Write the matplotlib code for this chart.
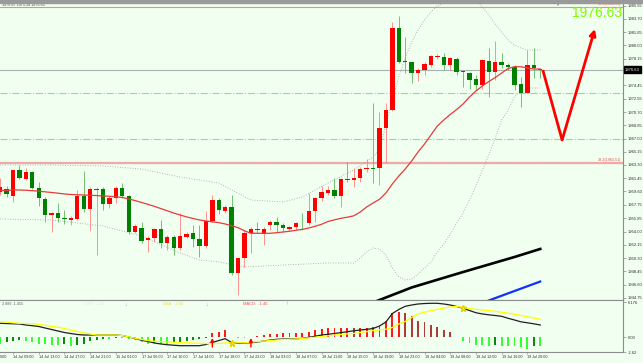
import numpy as np
import matplotlib.pyplot as plt
import matplotlib.transforms as mtrans

plt.rcParams['font.family'] = ['Liberation Sans', 'DejaVu Sans']

# H1 bars, index 0 = 14 Jul 09:00
bars = np.arange(-2, 83)

opens = [1959.53, 1959.95, 1958.97, 1962.60, 1961.34, 1962.32, 1960.09, 1958.55, 1956.31, 1956.59,
         1955.90, 1955.62, 1955.76, 1958.97, 1957.15, 1959.81, 1959.95, 1957.85, 1958.69, 1960.09,
         1958.97, 1953.94, 1954.50, 1952.82, 1953.10, 1954.36, 1952.40, 1953.24, 1951.70, 1953.24,
         1953.80, 1952.96, 1951.98, 1955.48, 1958.41, 1956.87, 1957.43, 1948.21, 1950.31, 1953.80,
         1954.36, 1953.66, 1954.92, 1955.34, 1954.92, 1954.36, 1954.64, 1955.20, 1955.20, 1956.87,
         1958.69, 1959.39, 1959.81, 1958.97, 1961.34, 1961.20, 1961.48, 1962.74, 1962.88, 1962.88,
         1968.47, 1970.98, 1982.44, 1977.83, 1977.69, 1976.15, 1976.57, 1977.27, 1978.35, 1978.39,
         1977.27, 1978.11, 1976.43, 1976.15, 1975.31, 1974.48, 1977.83, 1976.29, 1977.69, 1977.27,
         1976.99, 1974.62, 1973.36, 1977.27, 1976.65]
highs = [1961.48, 1960.37, 1962.65, 1963.30, 1962.88, 1962.40, 1960.92, 1958.83, 1956.73, 1957.99,
         1957.01, 1956.17, 1959.81, 1962.46, 1960.23, 1960.23, 1960.23, 1958.97, 1960.37, 1960.78,
         1959.05, 1955.06, 1955.34, 1953.38, 1954.50, 1955.62, 1953.52, 1953.52, 1956.59, 1953.94,
         1954.92, 1954.92, 1956.87, 1959.11, 1958.69, 1957.71, 1959.11, 1950.40, 1954.22, 1954.64,
         1955.34, 1954.64, 1955.62, 1956.03, 1955.20, 1954.78, 1955.34, 1956.59, 1959.39, 1958.83,
         1960.37, 1960.37, 1961.48, 1961.48, 1963.72, 1962.88, 1963.02, 1964.14, 1971.96, 1970.70,
         1971.96, 1983.28, 1984.11, 1981.18, 1977.75, 1976.85, 1977.69, 1978.67, 1978.81, 1978.95,
         1978.39, 1978.39, 1976.57, 1976.29, 1975.87, 1978.11, 1979.64, 1980.62, 1978.95, 1977.55,
         1977.27, 1975.59, 1979.36, 1979.64, 1976.67]
lows = [1959.11, 1958.83, 1958.13, 1961.34, 1961.20, 1959.95, 1957.57, 1955.34, 1953.94, 1955.34,
        1955.06, 1954.92, 1955.62, 1956.73, 1954.08, 1950.73, 1957.01, 1957.29, 1957.99, 1958.69,
        1953.66, 1953.80, 1952.40, 1951.14, 1952.54, 1951.70, 1951.42, 1950.73, 1951.42, 1953.10,
        1951.84, 1950.45, 1951.70, 1955.34, 1956.45, 1956.59, 1947.93, 1945.10, 1949.05, 1951.00,
        1953.80, 1952.12, 1954.22, 1953.94, 1953.94, 1954.08, 1954.22, 1954.22, 1954.92, 1955.34,
        1958.27, 1959.11, 1958.69, 1957.43, 1960.92, 1960.23, 1960.92, 1962.32, 1960.78, 1960.50,
        1963.58, 1970.90, 1977.60, 1976.15, 1974.75, 1975.03, 1975.87, 1976.99, 1978.11, 1976.57,
        1976.57, 1975.87, 1974.20, 1973.92, 1973.78, 1973.92, 1972.80, 1975.17, 1976.85, 1976.57,
        1973.78, 1971.40, 1973.30, 1975.45, 1975.39]
closes = [1960.23, 1959.25, 1962.60, 1961.48, 1962.32, 1960.09, 1958.69, 1956.31, 1956.59, 1955.90,
          1955.70, 1955.90, 1958.97, 1957.15, 1959.95, 1959.95, 1957.85, 1958.69, 1960.09, 1958.97,
          1953.94, 1954.78, 1952.68, 1953.10, 1954.36, 1952.40, 1953.24, 1951.70, 1953.38, 1953.66,
          1952.96, 1951.98, 1955.48, 1958.41, 1957.01, 1957.43, 1948.21, 1950.31, 1953.80, 1954.36,
          1954.25, 1954.36, 1955.34, 1954.92, 1954.50, 1954.64, 1955.20, 1955.13, 1956.87, 1958.69,
          1959.53, 1959.81, 1958.97, 1961.34, 1961.20, 1961.48, 1962.74, 1962.88, 1962.74, 1968.47,
          1970.98, 1982.44, 1977.69, 1977.69, 1976.15, 1976.57, 1977.41, 1978.53, 1978.39, 1977.27,
          1978.25, 1976.29, 1976.29, 1975.17, 1974.48, 1977.97, 1976.29, 1977.69, 1977.27, 1976.99,
          1974.48, 1973.36, 1977.27, 1976.85, 1976.63]

# moving average (red) per bar
ma = [1959.74, 1959.74, 1959.81, 1959.81, 1959.77, 1959.71, 1959.64, 1959.55, 1959.46, 1959.36,
      1959.25, 1959.18, 1959.14, 1959.11, 1959.07, 1959.03, 1958.97, 1958.93, 1958.87, 1958.76,
      1958.55, 1958.33, 1958.06, 1957.80, 1957.52, 1957.21, 1956.90, 1956.59, 1956.31, 1956.05,
      1955.83, 1955.62, 1955.48, 1955.36, 1955.25, 1955.06, 1954.81, 1954.55, 1954.11, 1953.76,
      1953.76, 1953.76, 1953.76, 1953.84, 1953.94, 1954.04, 1954.18, 1954.30, 1954.50, 1954.74,
      1955.02, 1955.41, 1955.64, 1955.85, 1956.01, 1956.20, 1956.73, 1957.43, 1957.99, 1958.51,
      1959.39, 1960.65, 1961.76, 1962.74, 1963.86, 1965.12, 1966.23, 1967.49, 1968.75, 1969.59,
      1970.35, 1971.05, 1971.82, 1972.80, 1973.64, 1974.34, 1974.96, 1975.52, 1976.15, 1976.78,
      1977.03, 1977.03, 1976.85, 1976.71, 1976.71]

# bollinger bands (dotted), read at some bars
upper_idx = [-2, 6, 14, 20, 26, 29, 32, 37, 42, 45, 49, 53, 56, 57, 58, 59, 60, 61, 62, 63,
             64, 65, 66, 67, 68, 70, 72, 73, 74, 75, 76, 77, 78, 79, 80, 82]
upper_val = [1963.30, 1963.30, 1963.16, 1962.74, 1961.62, 1961.20, 1960.78, 1958.41, 1958.13, 1958.83,
             1960.78, 1962.60, 1964.42, 1965.39, 1968.89, 1972.38, 1975.59, 1978.25, 1980.48, 1982.16,
             1983.56, 1984.67, 1985.51, 1985.93, 1986.35, 1986.77, 1986.35, 1985.37, 1984.25, 1982.99,
             1981.88, 1980.76, 1980.06, 1979.64, 1979.36, 1979.36]
lower_idx = [-2, 6, 14, 20, 26, 29, 32, 36, 42, 49, 53, 54, 55, 56, 57, 58, 59, 60, 61, 62,
             63, 64, 65, 66, 67, 68, 69, 70, 71, 72, 73, 74, 75, 76, 77, 78, 79, 80, 82]
lower_val = [1955.76, 1955.62, 1954.78, 1953.38, 1951.00, 1950.03, 1949.75, 1949.05, 1949.33, 1949.61,
             1949.61, 1950.31, 1951.15, 1951.70, 1951.56, 1950.73, 1948.91, 1947.65, 1947.23, 1947.37,
             1948.07, 1948.91, 1949.75, 1951.15, 1952.26, 1953.66, 1955.20, 1956.59, 1958.41, 1960.37,
             1962.60, 1964.70, 1967.07, 1969.59, 1970.98, 1972.80, 1973.78, 1974.06, 1974.06]

# long moving averages
black_idx = [52, 56, 57, 62, 70, 78, 82]
black_val = [1942.76, 1944.09, 1944.44, 1946.19, 1948.35, 1950.45, 1951.57]
blue_idx = [72, 74, 78, 82]
blue_val = [1943.67, 1944.37, 1945.70, 1947.02]

# horizontal levels
fib_levels = [1985.37, 1963.57]
fib_labels = ['50.0(1985.36)', '38.2(1963.51)']
green_levels = [1973.40, 1966.93, 1963.57]
last_price = 1976.63

# forecast arrow path (bar, price)
arrow_bars = [82.4, 85.4, 90.5]
arrow_prices = [1976.57, 1966.79, 1982.30]

price_ticks = [1985.55, 1983.70, 1981.85, 1980.00, 1978.15, 1976.30, 1974.45, 1972.55, 1970.70, 1968.85,
               1967.00, 1965.15, 1963.30, 1961.45, 1959.60, 1957.75, 1955.85, 1954.00, 1952.15, 1950.30,
               1948.45, 1946.60, 1944.75]

# MACD panel
dif = [2.43, 2.39, 2.34, 2.31, 2.13, 2.01, 1.87, 1.60, 1.34, 1.07,
       0.81, 0.63, 0.46, 0.37, 0.37, 0.37, 0.37, 0.37, 0.37, 0.28,
       0.02, -0.25, -0.56, -0.77, -1.04, -1.21, -1.34, -1.43, -1.51, -1.51,
       -1.51, -1.51, -1.30, -0.95, -0.60, -0.28, -0.95, -1.09, -1.04, -0.99,
       -0.86, -0.69, -0.51, -0.39, -0.33, -0.33, -0.30, -0.21, -0.04, 0.16,
       0.37, 0.49, 0.65, 0.79, 0.95, 1.11, 1.25, 1.37, 1.51, 1.95,
       2.66, 4.15, 4.86, 5.42, 5.65, 5.83, 5.91, 5.95, 5.95, 5.83,
       5.65, 5.39, 5.07, 4.68, 4.29, 4.07, 3.92, 3.80, 3.66, 3.31,
       3.01, 2.69, 2.52, 2.34, 2.13]
dea = [2.71, 2.62, 2.52, 2.43, 2.39, 2.34, 2.27, 2.08, 1.88, 1.76,
       1.51, 1.25, 0.99, 0.76, 0.55, 0.37, 0.37, 0.37, 0.37, 0.28,
       0.05, -0.21, -0.42, -0.60, -0.72, -0.77, -0.83, -0.92, -0.97, -1.00,
       -1.06, -1.09, -1.13, -1.18, -1.13, -1.04, -0.99, -0.99, -0.99, -0.92,
       -0.77, -0.69, -0.60, -0.51, -0.42, -0.39, -0.33, -0.25, -0.12, -0.02,
       0.11, 0.23, 0.35, 0.46, 0.58, 0.63, 0.81, 0.95, 1.16, 1.28,
       1.39, 1.69, 2.31, 2.75, 3.45, 4.07, 4.37, 4.65, 4.89, 5.12,
       5.30, 5.39, 5.21, 5.03, 4.89, 4.77, 4.68, 4.54, 4.37, 4.21,
       4.03, 3.80, 3.57, 3.36, 3.13]
hist = [-1.23, -0.88, -0.70, -0.53, -0.70, -0.88, -1.23, -1.23, -1.41, -1.41,
        -1.23, -1.58, -1.41, -1.23, -0.70, -0.53, -0.35, -0.35, -0.18, -0.18,
        -0.30, -0.58, -0.88, -1.18, -1.06, -1.23, -1.23, -1.06, -0.88, -0.76,
        -0.58, -0.30, -0.18, 0.70, 0.88, 1.23, 0.09, -0.18, -0.18, 0.09,
        0.18, 0.35, 0.48, 0.58, 0.65, 0.65, 0.76, 0.76, 0.93, 1.23,
        1.36, 1.53, 1.53, 1.64, 1.64, 1.53, 1.53, 1.53, 1.76, 1.94,
        2.82, 4.22, 4.40, 4.22, 3.70, 2.82, 2.64, 2.11, 1.76, 1.23,
        0.88, 0.09, -0.70, -1.06, -1.41, -1.41, -1.58, -1.41, -1.58, -1.58,
        -1.58, -1.76, -2.11, -1.58, -1.58]
cross_up_bars = [31, 37]
cross_down_bars = [34, 70]

tick_bars = list(range(0, 81, 4))
tick_labels = ['14 Jul 09:00', '14 Jul 13:00', '14 Jul 17:00', '14 Jul 21:00',
               '15 Jul 01:00', '17 Jul 06:00', '17 Jul 10:00', '17 Jul 14:00', '17 Jul 18:00',
               '17 Jul 22:00', '18 Jul 03:00', '18 Jul 07:00', '18 Jul 11:00', '18 Jul 15:00',
               '18 Jul 19:00', '18 Jul 23:00', '19 Jul 04:00', '19 Jul 08:00', '19 Jul 12:00',
               '19 Jul 16:00', '19 Jul 20:00']
first_label_tail = '5:00'   # end of "14 Jul 05:00", the rest is off the left edge

bg = '#f0fff0'
W, H = 643, 363

def box(x0, y0, x1, y1):
    return [x0 / W, 1 - y1 / H, (x1 - x0) / W, (y1 - y0) / H]

fig = plt.figure(figsize=(W / 100, H / 100), dpi=100)
fig.patch.set_facecolor(bg)
ax = fig.add_axes(box(0, 3, 623, 300))
axm = fig.add_axes(box(0, 300, 623, 352), sharex=ax)

for a in (ax, axm):
    a.set_facecolor(bg)
    a.spines['left'].set_visible(False)
    for s in ('right', 'bottom', 'top'):
        a.spines[s].set_color('#8c8c8c')
        a.spines[s].set_linewidth(0.8)
    a.yaxis.tick_right()
    a.tick_params(axis='y', direction='out', length=2, width=0.5, colors='#8c8c8c',
                  labelcolor='#303030', labelsize=3, pad=1.5)
ax.spines['top'].set_visible(False)

# candles
o = np.array(opens); h = np.array(highs); l = np.array(lows); c = np.array(closes)
up = c >= o
ax.vlines(bars[up], l[up], h[up], color='#ff8080', lw=0.6, zorder=3)
ax.vlines(bars[~up], l[~up], h[~up], color='#60b860', lw=0.6, zorder=3)
body = np.maximum(np.abs(c - o), 0.12)
ax.bar(bars, body, bottom=np.minimum(o, c), width=0.68,
       color=np.where(up, '#ff0000', '#008000'), zorder=4)

# indicators
ax.plot(bars, ma, color='#e83a3a', lw=0.9, zorder=5)
ax.plot(upper_idx, upper_val, color='#a0a0a0', lw=0.6, ls=(0, (1, 2)), zorder=2)
ax.plot(lower_idx, lower_val, color='#a0a0a0', lw=0.6, ls=(0, (1, 2)), zorder=2)
ax.plot(black_idx, black_val, color='black', lw=1.9, zorder=5)
ax.plot(blue_idx, blue_val, color='#1030ff', lw=1.6, zorder=5)

# levels
ax.axhline(last_price, color='#a8b4b4', lw=0.8, zorder=1)
ax.axhline(fib_levels[0], color='#f08a8a', lw=0.8, zorder=1)
ax.axhline(fib_levels[1], color='#f4a8a8', lw=1.6, zorder=1)
for g in green_levels:
    ax.axhline(g, color='#8ee08e', lw=0.8, ls='-.', zorder=1)
for lev, lab in zip(fib_levels, fib_labels):
    ax.text(94.6, lev + 0.12, lab, ha='right', va='bottom', fontsize=2.7, color='#e05050')

# forecast arrow
ax.plot(arrow_bars[:2], arrow_prices[:2], color='red', lw=2.0, zorder=6, solid_capstyle='butt')
ax.annotate('', xy=(arrow_bars[2], arrow_prices[2]), xytext=(arrow_bars[1], arrow_prices[1]),
            arrowprops=dict(arrowstyle='-|>', color='red', lw=2.0, mutation_scale=9,
                            shrinkA=0, shrinkB=0), zorder=6)

ax.set_xlim(-2.02, 94.87)
ax.set_ylim(1944.44, 1985.93)
ax.set_yticks(price_ticks)
ax.set_yticklabels(['%.2f' % p for p in price_ticks])
ax.tick_params(axis='x', bottom=False, labelbottom=False)
ax.text(1 + 2 / 623, last_price, '%.2f' % last_price,
        transform=mtrans.blended_transform_factory(ax.transAxes, ax.transData),
        ha='left', va='center', fontsize=3, color='white', zorder=10, clip_on=False,
        bbox=dict(boxstyle='square,pad=0.3', fc='black', ec='black'))

# MACD
hcol = []
for k, v in enumerate(hist):
    prev = hist[k - 1] if k else v
    if v >= 0:
        hcol.append('#ff1a1a' if v >= prev else '#b03a3a')
    else:
        hcol.append('#33ff33' if v <= prev else '#0a8a0a')
axm.bar(bars, hist, width=0.3, color=hcol, zorder=2)
axm.plot(bars, dif, color='#202020', lw=0.9, zorder=3)
axm.plot(bars, dea, color='#ffff00', lw=0.9, zorder=3)
dea_arr = dict(zip(bars, dea))
for b in cross_up_bars:
    axm.annotate('', xy=(b, -0.15), xytext=(b, -1.75),
                 arrowprops=dict(arrowstyle='-|>', color='red', lw=1.0, mutation_scale=5,
                                 shrinkA=0, shrinkB=0), zorder=5)
for b in cross_down_bars:
    axm.plot(b, dea_arr[b], marker='*', color='#ffff00', ms=4.5, mec='#e0d000', zorder=5)
axm.set_ylim(-2.62, 6.53)
axm.set_yticks([-2.62, 0, 6.176])
axm.set_yticklabels(['-2.62', '0.00', '6.176'])
axm.set_xticks(tick_bars)
axm.tick_params(axis='x', direction='out', length=1.5, width=0.5, colors='#8c8c8c',
                labelbottom=False)
tr = mtrans.blended_transform_factory(axm.transData, axm.transAxes)
for b, lab in zip(tick_bars, tick_labels):
    axm.text(b, -0.05, lab, transform=tr, ha='left', va='top', fontsize=2.7,
             color='#303030', clip_on=False)
axm.text(0.3 / 623, -0.05, first_label_tail, transform=axm.transAxes, ha='left', va='top',
         fontsize=2.7, color='#303030', clip_on=False)

axm.text(2 / 623, 0.93, '2.889 -1.455', transform=axm.transAxes, fontsize=2.7,
         color='#606060', va='center')
axm.text(85 / 623, 0.93, 'DIFF: 1.43', transform=axm.transAxes, fontsize=2.9,
         color='#dcefdc', va='center')
axm.text(124 / 623, 0.91, '↓', transform=axm.transAxes, fontsize=3.5, color='#40c040', va='center')
axm.text(163 / 623, 0.93, 'DEA    2.89', transform=axm.transAxes, fontsize=2.9,
         color='#e6e040', va='center')
axm.text(205 / 623, 0.91, '↓', transform=axm.transAxes, fontsize=3.5, color='#40c040', va='center')
axm.text(243 / 623, 0.93, 'MACD:  -1.46', transform=axm.transAxes, fontsize=2.9,
         color='#f05050', va='center')
axm.text(285 / 623, 0.93, '↑', transform=axm.transAxes, fontsize=3.5, color='#f05050', va='center')

# chrome
fig.add_artist(plt.Rectangle((0, 1 - 3 / H), 1, 3 / H, transform=fig.transFigure,
                             color='#9a9a9a', zorder=20))
fig.text(2 / W, 1 - 5.5 / H, '1976.67 1975.39 1976.63', fontsize=2.7, color='#404040', va='center')
fig.text(557 / W, 1 - 5 / H, '▼', fontsize=3, color='#8c8c8c', ha='center', va='center')
fig.text(622 / W, 1 - 13 / H, '%.2f' % last_price, fontsize=10, color='#7cfc00',
         ha='right', va='center')

fig.savefig('out.png', dpi=100, facecolor=bg)
